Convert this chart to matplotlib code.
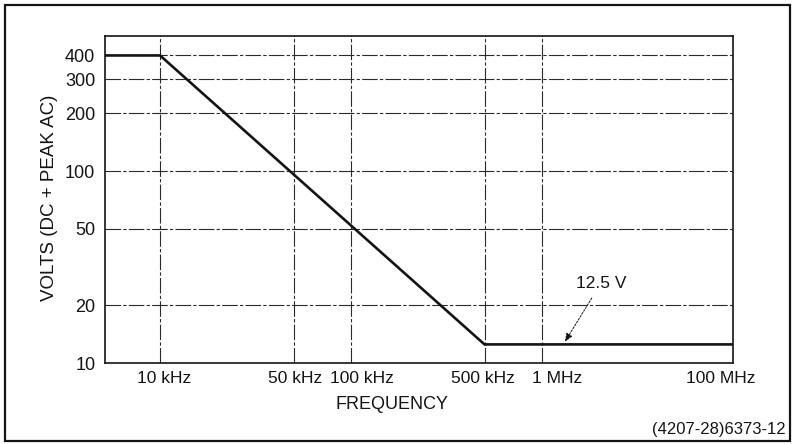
import numpy as np
import matplotlib
matplotlib.use("Agg")
import matplotlib.pyplot as plt
from matplotlib.patches import Rectangle
from matplotlib.ticker import FixedLocator, NullFormatter, FixedFormatter, NullLocator

plt.rcParams['font.family'] = ['Liberation Sans', 'DejaVu Sans']

# Derating curve: maximum input voltage vs frequency
knee_freqs_hz = [10e3, 500e3]
knee_volts = [400, 12.5]
plateau_volts = 12.5

x_ticks_hz = [10e3, 50e3, 100e3, 500e3, 1e6, 100e6]
x_tick_labels = ['10 kHz', '50 kHz', '100 kHz', '500 kHz', '1 MHz', '100 MHz']
# horizontal nudge (pixels) of each frequency label relative to its tick
x_label_nudge_px = [4, 2, 11, -2, 15, 0]
x_grid_hz = [10e3, 50e3, 100e3, 500e3, 1e6]
y_ticks = [10, 20, 50, 100, 200, 300, 400]
y_tick_labels = ['10', '20', '50', '100', '200', '300', '400']
y_grid = [20, 50, 100, 200, 300, 400]

# Log axis that is compressed above 1 MHz
K = 0.4686


def fwd(x):
    lx = np.log10(np.clip(np.asarray(x, dtype=float), 1e-12, None))
    return np.where(lx <= 6, lx, 6 + (lx - 6) * K)


def inv(y):
    y = np.clip(np.asarray(y, dtype=float), -12, 12)
    return np.where(y <= 6, 10.0 ** y, 10.0 ** (6 + (y - 6) / K))


XMIN, XMAX = 5.15e3, 1.36e8
YMIN, YMAX = 10, 505

fig = plt.figure(figsize=(7.93, 4.44), dpi=100)
fig.patch.set_facecolor('white')
ax = fig.add_axes([0.1324, 0.1824, 0.7919, 0.7365])
ax.set_xscale('function', functions=(fwd, inv))
ax.set_yscale('log')
ax.set_xlim(XMIN, XMAX)
ax.set_ylim(YMIN, YMAX)

ink = '#141414'
grid_kw = dict(color='#2a2a2a', lw=0.8, ls=(0, (14, 2, 3, 2)), zorder=1)
for f in x_grid_hz:
    ax.axvline(f, **grid_kw)
for v in y_grid:
    ax.axhline(v, **grid_kw)

# Curve: flat at 400 V, falls to 12.5 V, then flat to the end of the range
freqs = [XMIN] + knee_freqs_hz + [XMAX]
volts = [knee_volts[0]] + knee_volts + [plateau_volts]
ax.plot(freqs, volts, color=ink, lw=1.9, solid_joinstyle='miter', zorder=3)

ax.xaxis.set_major_locator(FixedLocator(x_ticks_hz))
ax.xaxis.set_major_formatter(NullFormatter())
ax.xaxis.set_minor_locator(NullLocator())
ax.yaxis.set_major_locator(FixedLocator(y_ticks))
ax.yaxis.set_major_formatter(FixedFormatter(y_tick_labels))
ax.yaxis.set_minor_locator(NullLocator())
ax.tick_params(axis='both', length=0, colors=ink)
ax.tick_params(axis='y', pad=7, labelsize=13)

for f, lab, dx in zip(x_ticks_hz, x_tick_labels, x_label_nudge_px):
    ax.annotate(lab, xy=(f, 0), xycoords=('data', 'axes fraction'),
                xytext=(dx, -15), textcoords='offset pixels',
                ha='center', va='center', fontsize=12.5, color=ink)

for s in ax.spines.values():
    s.set_linewidth(1.2)
    s.set_color(ink)

fig.text(50 / 793, 1 - 198 / 444, 'VOLTS (DC + PEAK AC)', fontsize=13.5,
         color=ink, rotation=90, ha='center', va='center')
fig.text(392 / 793, 1 - 404 / 444, 'FREQUENCY', fontsize=13, color=ink,
         ha='center', va='center')

# 12.5 V callout
ax.text(4.56e6, 25.8, '12.5 V', fontsize=12.5, color=ink, ha='center', va='center')
ax.annotate('', xy=(1.8e6, 12.9), xytext=(3.6e6, 21.8),
            arrowprops=dict(arrowstyle='-|>,head_length=0.5,head_width=0.2',
                            color=ink, lw=0.7, ls=(0, (2, 1.5)),
                            shrinkA=0, shrinkB=0))

fig.text(786 / 793, 1 - 429 / 444, '(4207-28)6373-12', fontsize=12, color=ink,
         ha='right', va='center')

# Outer frame
fig.patches.append(Rectangle((5 / 793, 1 - 441 / 444), 785 / 793, 436 / 444,
                             transform=fig.transFigure, fill=False,
                             lw=1.6, edgecolor=ink))

fig.savefig('out.png', dpi=100, facecolor='white')
